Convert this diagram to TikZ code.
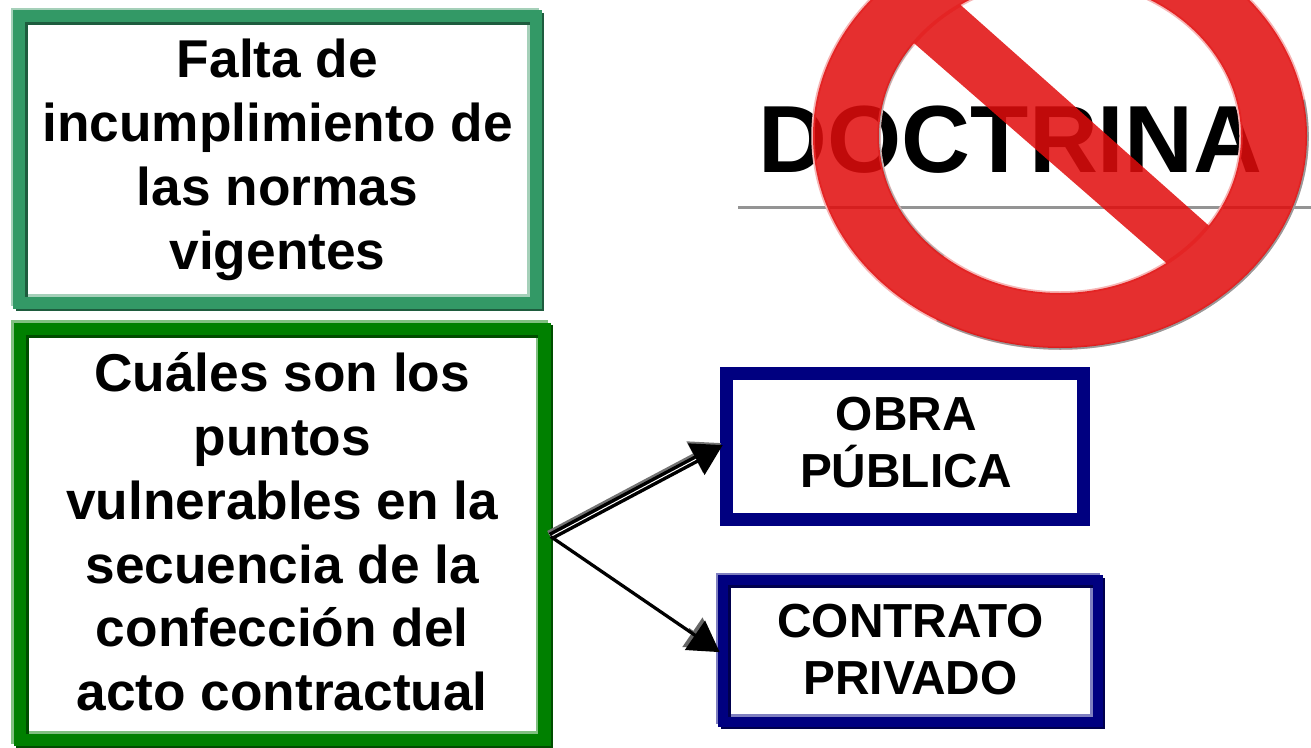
\documentclass[tikz,border=0pt]{standalone}
\usepackage{xcolor}
\usepackage{fontspec}
\setmainfont{Liberation Sans}
\usepackage{tikz}
\usetikzlibrary{arrows.meta, positioning, calc}
\definecolor{frgreen}{RGB}{51,153,102}
\definecolor{frgreenlt}{RGB}{165,208,185}
\definecolor{frgreendk}{RGB}{30,92,62}
\definecolor{frdeep}{RGB}{0,128,0}
\definecolor{frdeeplt}{RGB}{128,192,128}
\definecolor{frdeepdk}{RGB}{0,77,0}
\definecolor{frnavy}{RGB}{0,0,128}
\definecolor{frnavylt}{RGB}{128,128,192}
\definecolor{frnavydk}{RGB}{0,0,77}
\definecolor{signred}{RGB}{225,12,12}
\tikzset{
  bigtext/.style={font=\fontsize{30.3}{36.4}\selectfont\bfseries, align=center, inner sep=0pt},
  smalltext/.style={font=\fontsize{27.2}{32.4}\selectfont\bfseries, align=center, inner sep=0pt},
  bevel/.style n args={3}{draw=#1, line width=0.24cm,
    preaction={fill=white},
    preaction={draw=#2, transform canvas={shift={(-0.05cm,0.05cm)}}},
    preaction={draw=#3, transform canvas={shift={(0.05cm,-0.05cm)}}}},
  bigarrow/.style={-{Triangle[length=0.6cm,width=0.7cm]}}
}

\begin{document}
\begin{tikzpicture}[x=0.02cm,y=-0.02cm]
\useasboundingbox (0,0) rectangle (1311,747);
\clip (0,0) rectangle (1311,747);

% Title and rule under the sign
\node[font=\fontsize{54.3}{60}\selectfont\bfseries, inner sep=0pt] (doctrina) at (1010.5,140) {DOCTRINA};
\coordinate (ruleL) at (738,207);
\coordinate (ruleR) at (1311,207);
\draw[black!42, line width=0.06cm] (ruleL) -- (ruleR);

% Sign edges
\draw[signred!30, line width=0.07cm] (1060,136) ellipse [x radius=247, y radius=212];
\draw[signred!30, line width=0.07cm] (1060,136) ellipse [x radius=181, y radius=157];
\draw[black!40, line width=0.05cm] (1060.5,136.5) ++(-10:247 and 212) arc [start angle=-10, end angle=120, x radius=247, y radius=212];
\draw[black!30, line width=0.05cm] (1060,136) ++(130:181 and 157) arc [start angle=130, end angle=215, x radius=181, y radius=157];
% Sign
\begin{scope}[transparency group, opacity=0.855]
\fill[signred, even odd rule] (1060,136) ellipse [x radius=247, y radius=212]
  (1060,136) ellipse [x radius=181, y radius=157];
\fill[signred] (900,31) -- (1172,268) -- (1216,232) -- (955,0) -- (925,0) -- cycle;
\end{scope}

% Left boxes
\node[bevel={frgreen}{frgreenlt}{frgreendk}, bigtext, minimum width=10.33cm, minimum height=5.74cm] (falta) at (277.5,159.5)
  {Falta de\\incumplimiento de\\las normas\\vigentes};
\node[bevel={frdeep}{frdeeplt}{frdeepdk}, line width=0.246cm, bigtext, text depth=0.12cm, minimum width=10.49cm, minimum height=8.22cm] (cuales) at (282.25,534.5)
  {Cuáles son los\\puntos\\vulnerables en la\\secuencia de la\\confección del\\acto contractual};

% Right boxes
\node[draw=frnavy, line width=0.26cm, fill=white, smalltext, text depth=0.16cm, minimum width=7.14cm, minimum height=2.92cm] (obra) at (905,446.5)
  {\hspace{0.05cm}OBRA\\\hspace{0.05cm}PÚBLICA};
\node[bevel={frnavy}{frnavylt}{frnavydk}, line width=0.2cm, smalltext, text depth=0.06cm, minimum width=7.5cm, minimum height=2.84cm] (contrato) at (910.5,651)
  {CONTRATO\\PRIVADO};

% Arrows
\draw[bigarrow, black!55, double=white, double distance=0.02cm, line width=0.07cm, shorten >=-0.06cm, transform canvas={shift={(-0.03cm,0.04cm)}}] ([yshift=-0.04cm]cuales.east) -- (obra.west);
\draw[bigarrow, black, double=white, double distance=0.02cm, line width=0.07cm, shorten >=-0.06cm] ([yshift=-0.04cm]cuales.east) -- (obra.west);
\draw[bigarrow, black!60, line width=0.065cm, shorten <=3.4cm, shorten >=-0.04cm, transform canvas={shift={(-0.05cm,0.06cm)}}] ([yshift=-0.04cm]cuales.east) -- (contrato.west);
\draw[bigarrow, black, line width=0.065cm, shorten >=-0.04cm] ([yshift=-0.04cm]cuales.east) -- (contrato.west);
\end{tikzpicture}
\end{document}
